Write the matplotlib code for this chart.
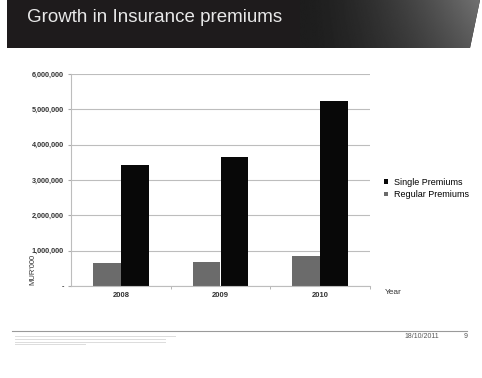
import matplotlib.pyplot as plt
import numpy as np
from matplotlib.patches import Polygon

years = ["2008", "2009", "2010"]
single = [3420000, 3650000, 5230000]
regular = [650000, 680000, 850000]
yticks = [0, 1000000, 2000000, 3000000, 4000000, 5000000, 6000000]
ylabels = ["-", "1,000,000", "2,000,000", "3,000,000", "4,000,000", "5,000,000", "6,000,000"]

plt.rcParams["font.family"] = ["Liberation Sans", "DejaVu Sans"]

W, H = 482, 378
fig = plt.figure(figsize=(W / 100, H / 100), dpi=100)
fig.patch.set_facecolor("white")

# header band with a slanted right edge and a lighter patch to the right
bg = fig.add_axes([0, 0, 1, 1])
bg.set_xlim(0, W)
bg.set_ylim(H, 0)
bg.axis("off")
band = Polygon([(7, 0), (480, 0), (470, 48), (7, 48)], closed=True,
               facecolor="#1e1b1c", edgecolor="none")
bg.add_patch(band)
gx = np.linspace(0, 1, 200) ** 1.6
gy = np.linspace(1, 0.75, 50)[:, None]
img = 0.115 + 0.33 * gx[None, :] * gy
im = bg.imshow(img, extent=[300, 480, 48, 0], cmap="gray", vmin=0, vmax=1,
               aspect="auto", zorder=2)
im.set_clip_path(band)
bg.set_xlim(0, W)
bg.set_ylim(H, 0)
bg.text(27, 17, "Growth in Insurance premiums", color="#e8e8e8", fontsize=13.5,
        va="center", ha="left", zorder=3)

# footer
bg.plot([12, 467], [331, 331], color="#9a9a9a", lw=0.8)
for i, w in enumerate([160, 150, 150, 70]):
    bg.plot([15, 15 + w], [336 + i * 2.8, 336 + i * 2.8], color="#dcdcdc", lw=0.7)
bg.text(422, 337, "18/10/2011", fontsize=5, color="#555555", ha="center", va="center")
bg.text(466, 337, "9", fontsize=5, color="#555555", ha="center", va="center")

# chart
ax = fig.add_axes([71 / W, 1 - 286 / H, 299 / W, 212 / H])
x = np.arange(len(years))
bw = 0.28
b_reg = ax.bar(x - bw / 2, regular, width=bw, color="#6b6b6b", label="Regular Premiums")
b_sin = ax.bar(x + bw / 2, single, width=bw, color="#080808", label="Single Premiums")
ax.set_xlim(-0.5, 2.5)
ax.set_ylim(0, 6000000)
ax.set_yticks(yticks)
ax.set_yticklabels(ylabels, fontsize=5.2, fontweight="bold", color="#333333")
ax.set_xticks(x)
ax.set_xticklabels(years, fontsize=5.5, fontweight="bold", color="#333333")
ax.tick_params(axis="x", length=0, pad=4)
ax.set_xticks([0.5, 1.5, 2.5], minor=True)
ax.tick_params(axis="x", which="minor", length=2, color="#aaaaaa")
ax.tick_params(axis="y", length=2, color="#aaaaaa", pad=3)
ax.grid(axis="y", color="#bdbdbd", lw=0.8)
ax.set_axisbelow(True)
for s in ["top", "right"]:
    ax.spines[s].set_visible(False)
ax.spines["left"].set_color("#bdbdbd")
ax.spines["bottom"].set_color("#bdbdbd")
ax.set_ylabel("MUR'000", fontsize=5.5, color="#333333")
ax.yaxis.set_label_coords(-0.115, 0.08)
ax.text(1.05, -0.03, "Year", transform=ax.transAxes, fontsize=6, color="#333333",
        va="center", ha="left")

fig.legend(handles=[b_sin, b_reg], labels=["Single Premiums", "Regular Premiums"],
           loc="upper left", bbox_to_anchor=(376 / W, 1 - 170 / H), frameon=False,
           handlelength=0.45, handleheight=0.45, handletextpad=0.6,
           labelspacing=0.35, prop={"size": 6.5})

fig.savefig("out.png", dpi=100)
